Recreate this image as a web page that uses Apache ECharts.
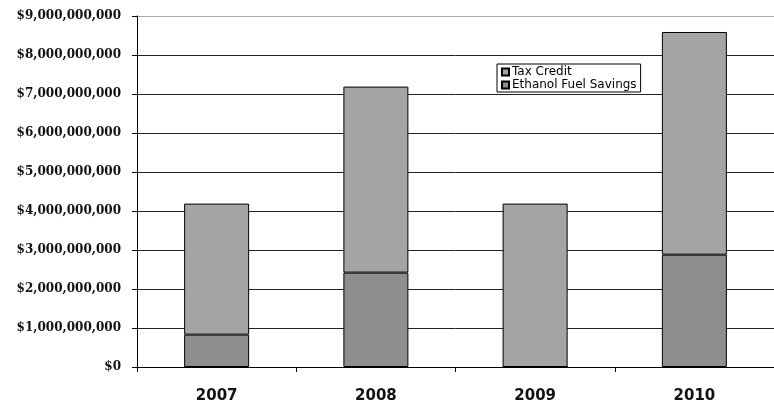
<!DOCTYPE html>
<html>
<head>
<meta charset="utf-8">
<script src="https://cdn.jsdelivr.net/npm/echarts@6/dist/echarts.min.js"></script>
<style>
html,body{margin:0;padding:0;background:#fff;}
#chart{width:774px;height:405px;}
</style>
</head>
<body>
<div id="chart"></div>
<script>
const categories = ['2007', '2008', '2009', '2010'];
const taxCredit = [3360000000, 4770000000, 4190000000, 5710000000];
const fuelSavings = [830000000, 2420000000, 0, 2880000000];
const seriesNames = ['Tax Credit', 'Ethanol Fuel Savings'];

const chart = echarts.init(document.getElementById('chart'), null, {renderer: 'canvas'});
const gridColors = ['#222','#222','#222','#222','#222','#222','#222','#222','#222','#aaa'];
chart.setOption({
  animation: false,
  backgroundColor: '#fff',
  grid: {left: 137, top: 16, width: 646, bottom: 38, containLabel: false},
  legend: {
    orient: 'vertical',
    left: 497, top: 64,
    data: seriesNames,
    icon: 'rect',
    itemWidth: 7, itemHeight: 7, itemGap: 1,
    padding: [2, 4, 1, 4],
    borderColor: '#000', borderWidth: 1,
    backgroundColor: '#fff',
    textStyle: {fontFamily: 'DejaVu Sans', fontSize: 12, color: '#000', padding: [0,0,0,-2]}
  },
  xAxis: {
    type: 'category',
    data: categories,
    axisLine: {lineStyle: {color: '#000', width: 1}},
    axisTick: {show: true, length: 5, inside: false, lineStyle: {color: '#000'}},
    axisLabel: {fontFamily: 'DejaVu Sans', fontWeight: 'bold', fontSize: 15, color: '#111', margin: 22}
  },
  yAxis: {
    type: 'value',
    min: 0, max: 9000000000, interval: 1000000000,
    axisLine: {show: true, lineStyle: {color: '#000', width: 1}},
    axisTick: {show: true, length: 5, lineStyle: {color: '#000'}},
    splitLine: {show: true, lineStyle: {color: gridColors, width: 1}},
    axisLabel: {
      fontFamily: 'DejaVu Serif', fontWeight: 'bold', fontSize: 12, color: '#111', margin: 16,
      formatter: v => '$' + v.toLocaleString('en-US')
    }
  },
  series: [
    {
      name: seriesNames[1], type: 'bar', stack: 'total', data: fuelSavings,
      barWidth: 65,
      itemStyle: {color: '#8e8e8e', borderColor: '#000', borderWidth: 1}
    },
    {
      name: seriesNames[0], type: 'bar', stack: 'total', data: taxCredit,
      barWidth: 65,
      itemStyle: {color: '#a4a4a4', borderColor: '#000', borderWidth: 1}
    }
  ]
});
</script>
</body>
</html>
